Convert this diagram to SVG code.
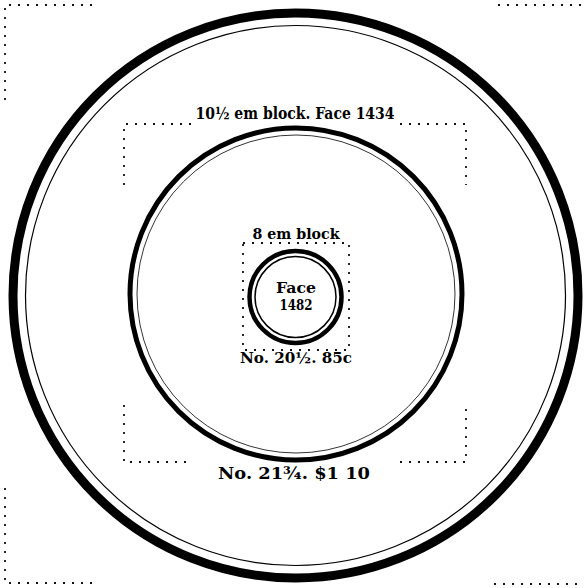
<svg xmlns="http://www.w3.org/2000/svg" width="585" height="588" viewBox="0 0 585 588">
<style>
.thick{fill:none;stroke:#000}
.thin{fill:none;stroke:#000}
.dot{fill:none;stroke:#111;stroke-width:1.8;stroke-dasharray:2 7}
.t{font-family:"DejaVu Serif","Liberation Serif",serif;font-weight:bold;fill:#000;text-anchor:middle}
</style>
<rect width="585" height="588" fill="#fff"/>
<g id="outer-ring">
<circle class="thick" cx="295.5" cy="295.5" r="282.5" stroke-width="9"/>
<circle class="thin" cx="295.5" cy="295.5" r="270" stroke-width="1.2"/>
</g>
<g id="outer-block">
<path class="dot" d="M5,100 V5 H97"/>
<path class="dot" d="M498,5 H582"/>
<path class="dot" d="M5,488 V583 H92"/>
<path class="dot" d="M494,584 H582"/>
</g>
<g id="middle-ring">
<circle class="thick" cx="296" cy="294" r="166" stroke-width="5"/>
<circle class="thin" cx="296" cy="294" r="159" stroke-width="0.8"/>
</g>
<g id="middle-block">
<path class="dot" d="M124,185 V124 H192"/>
<path class="dot" d="M400,124 H466 V185"/>
<path class="dot" d="M124,405 V462 H192"/>
<path class="dot" d="M400,462 H466 V405"/>
<text class="t" x="295" y="119" font-size="16" textLength="199" lengthAdjust="spacingAndGlyphs">10½ em block.  Face 1434</text>
<text class="t" x="294" y="479" font-size="16" textLength="152" lengthAdjust="spacingAndGlyphs">No. 21¾.  $1 10</text>
</g>
<g id="inner-ring">
<circle class="thick" cx="295.5" cy="297" r="46" stroke-width="4.5"/>
<circle class="thin" cx="295.5" cy="297" r="40.5" stroke-width="1.5"/>
</g>
<g id="inner-block">
<rect class="dot" x="243" y="243" width="106" height="107"/>
<text class="t" x="296" y="239" font-size="15" textLength="87" lengthAdjust="spacingAndGlyphs">8 em block</text>
<text class="t" x="296" y="363" font-size="15" textLength="112" lengthAdjust="spacingAndGlyphs">No. 20½. 85c</text>
<text class="t" x="296" y="293" font-size="15" textLength="40" lengthAdjust="spacingAndGlyphs">Face</text>
<text class="t" x="296" y="310" font-size="15" textLength="33" lengthAdjust="spacingAndGlyphs">1482</text>
</g>
</svg>
